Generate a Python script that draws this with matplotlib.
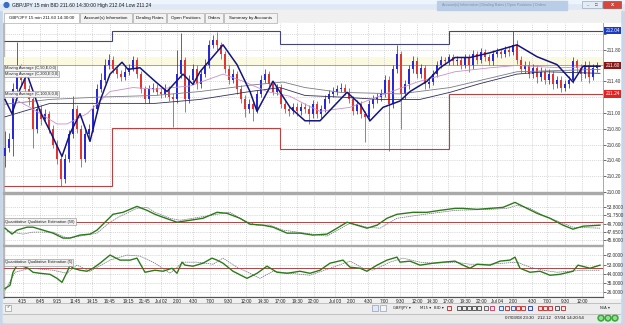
import matplotlib
matplotlib.use("Agg")
import matplotlib.pyplot as plt
from matplotlib.patches import Rectangle, Circle
import matplotlib.transforms as mtransforms

plt.rcParams['font.family'] = ['Liberation Sans', 'DejaVu Sans']

# ---------------- data ----------------
first_open = 210.45
closes = [210.55, 210.67, 211.30, 211.55, 211.42, 211.30, 211.17, 210.80, 211.05, 210.92,
          210.98, 210.80, 210.60, 210.42, 210.17, 210.42, 210.73, 211.05, 210.80, 210.42,
          210.73, 210.80, 211.05, 211.30, 211.42, 211.61, 211.67, 211.55, 211.49, 211.45,
          211.52, 211.57, 211.67, 211.49, 211.30, 211.17, 211.30, 211.32, 211.27, 211.24,
          211.30, 211.20, 211.17, 211.49, 211.67, 211.17, 211.42, 211.55, 211.36, 211.49,
          211.61, 211.86, 211.92, 211.86, 211.74, 211.55, 211.42, 211.49, 211.30, 211.17,
          211.05, 211.11, 211.05, 211.24, 211.42, 211.49, 211.36, 211.27, 211.32, 211.11,
          211.05, 211.02, 211.08, 211.02, 211.08, 211.05, 210.98, 211.11, 210.98, 211.05,
          211.17, 211.24, 211.27, 211.30, 211.32, 211.27, 211.17, 211.02, 211.11, 210.98,
          210.95, 211.11, 211.17, 211.20, 211.24, 211.42, 211.11, 211.55, 211.74, 211.24,
          211.36, 211.55, 211.65, 211.49, 211.57, 211.36, 211.39, 211.49, 211.61, 211.67,
          211.65, 211.70, 211.65, 211.67, 211.61, 211.70, 211.60, 211.74, 211.67, 211.77,
          211.70, 211.65, 211.74, 211.77, 211.74, 211.80, 211.77, 211.86, 211.67, 211.55,
          211.61, 211.49, 211.57, 211.45, 211.52, 211.42, 211.49, 211.36, 211.42, 211.32,
          211.36, 211.42, 211.65, 211.57, 211.49, 211.61, 211.45, 211.57, 211.60]
highs = [210.77, 210.75, 211.38, 211.90, 211.62, 211.47, 211.35, 211.22, 211.12, 211.10,
         211.05, 211.03, 210.85, 210.66, 210.46, 210.48, 210.78, 211.21, 211.10, 210.85,
         210.79, 210.86, 211.10, 211.36, 211.50, 211.68, 211.74, 211.72, 211.60, 211.54,
         211.58, 211.62, 211.72, 211.70, 211.53, 211.34, 211.35, 211.38, 211.36, 211.31,
         211.36, 211.34, 211.25, 211.80, 212.01, 211.70, 211.48, 211.62, 211.60, 211.55,
         211.68, 211.92, 211.98, 212.02, 211.90, 211.78, 211.60, 211.55, 211.53, 211.35,
         211.22, 211.17, 211.15, 211.29, 211.48, 211.55, 211.53, 211.40, 211.37, 211.36,
         211.15, 211.09, 211.13, 211.12, 211.13, 211.12, 211.10, 211.16, 211.15, 211.10,
         211.22, 211.29, 211.33, 211.35, 211.38, 211.36, 211.31, 211.21, 211.16, 211.15,
         211.03, 211.16, 211.22, 211.25, 211.30, 211.48, 211.46, 211.60, 211.86, 211.78,
         211.42, 211.60, 211.72, 211.70, 211.62, 211.61, 211.45, 211.54, 211.66, 211.72,
         211.71, 211.75, 211.74, 211.72, 211.71, 211.75, 211.74, 211.79, 211.78, 211.82,
         211.81, 211.74, 211.79, 211.82, 211.81, 211.85, 211.84, 212.03, 211.92, 211.72,
         211.66, 211.65, 211.62, 211.61, 211.58, 211.57, 211.55, 211.53, 211.47, 211.46,
         211.42, 211.47, 211.70, 211.68, 211.62, 211.66, 211.65, 211.62, 211.64]
lows = [210.32, 210.50, 210.45, 211.25, 211.35, 211.22, 211.10, 210.55, 210.74, 210.85,
        210.88, 210.74, 210.55, 210.36, 210.07, 210.12, 210.38, 210.68, 210.74, 210.32,
        210.38, 210.68, 210.76, 211.00, 211.26, 211.38, 211.56, 211.50, 211.44, 211.40,
        211.41, 211.48, 211.53, 211.44, 211.25, 211.13, 211.12, 211.26, 211.22, 211.19,
        211.20, 211.15, 210.82, 211.12, 211.44, 211.01, 211.12, 211.38, 211.30, 211.32,
        211.45, 211.57, 211.82, 211.80, 211.68, 211.50, 211.36, 211.38, 211.24, 211.12,
        210.95, 211.00, 210.90, 211.00, 211.20, 211.38, 211.31, 211.22, 211.22, 211.06,
        211.00, 210.96, 210.98, 210.96, 210.97, 211.00, 210.86, 210.94, 210.93, 210.94,
        211.01, 211.13, 211.20, 211.23, 211.26, 211.22, 211.12, 210.97, 210.98, 210.93,
        210.63, 210.90, 211.06, 211.12, 211.15, 211.20, 210.52, 211.06, 211.50, 210.80,
        211.18, 211.30, 211.50, 211.44, 211.44, 211.30, 211.32, 211.35, 211.45, 211.57,
        211.60, 211.61, 211.60, 211.61, 211.56, 211.57, 211.52, 211.56, 211.62, 211.63,
        211.65, 211.60, 211.61, 211.70, 211.69, 211.70, 211.72, 211.73, 211.62, 211.50,
        211.50, 211.44, 211.44, 211.38, 211.40, 211.36, 211.37, 211.30, 211.31, 211.26,
        211.28, 211.32, 211.38, 211.52, 211.40, 211.44, 211.38, 211.42, 211.52]

# moving averages (bar index, price)
ma50_x = [0, 1.75, 3.75, 5.5, 7.25, 8.75, 11.25, 14.25, 16.25, 18.75, 21.25, 23.75, 26.25, 29.25,
          30.75, 33.75, 37.5, 40.5, 44.5, 47, 48.75, 54.5, 58, 61.25, 63, 67, 71.25, 75, 78.75,
          85.5, 88.75, 91.25, 94.5, 98.75, 101.25, 105.5, 108.75, 112.5, 116.25, 121.25, 128,
          133, 138, 142, 144.5, 148.75]
ma50_y = [211.17, 210.99, 211.30, 211.49, 211.24, 211.02, 210.77, 210.45, 210.74, 210.99, 210.64,
          211.15, 211.49, 211.64, 211.55, 211.57, 211.40, 211.27, 211.49, 211.36, 211.52, 211.86,
          211.61, 211.27, 211.02, 211.40, 211.07, 210.90, 210.90, 211.26, 211.11, 210.90, 211.07,
          211.15, 211.27, 211.40, 211.57, 211.70, 211.70, 211.76, 211.86, 211.71, 211.61, 211.39,
          211.59, 211.59]
ma200_x = [0, 11.25, 23.75, 37.5, 48.75, 61.25, 68.75, 75, 83.75, 93.75, 103.75, 111.25, 118.75,
           128, 135, 148.75]
ma200_y = [210.95, 211.12, 211.12, 211.12, 211.17, 211.27, 211.32, 211.22, 211.20, 211.17, 211.17,
           211.26, 211.37, 211.49, 211.52, 211.50]
ma100_x = [0, 11.25, 23.75, 37.5, 48.75, 61.25, 69.5, 75, 83.75, 98.75, 111.25, 128, 148.75]
ma100_y = [211.11, 211.17, 211.20, 211.22, 211.27, 211.35, 211.39, 211.32, 211.26, 211.24, 211.32,
           211.52, 211.55]
mapink_x = [0, 6.25, 13, 15.5, 20.5, 26.25, 32, 37.5, 46.25, 54.5, 59.5, 65.5, 71.25, 75, 78.75,
            86.25, 93, 103, 112.5, 121.25, 128, 138.75, 148.75]
mapink_y = [211.24, 211.07, 210.86, 210.86, 210.99, 211.27, 211.32, 211.30, 211.34, 211.49, 211.40,
            211.27, 211.21, 211.11, 211.02, 211.07, 211.20, 211.39, 211.52, 211.57, 211.60, 211.57,
            211.59]

# daily high / low step levels
level_edges = [-0.25, 26.75, 68.75, 111, 149.5]
day_highs = [211.91, 212.04, 211.87, 212.04]
day_lows = [210.08, 210.81, 210.54, 211.24]
bid_price = 211.60

# QQE (50)
q50_x = [0, 1.75, 3, 5.5, 7, 9.5, 12, 14.5, 16.25, 18.75, 21.25, 23, 25.5, 27, 29.5, 31.25, 33,
         35.5, 37.5, 39.5, 43, 46.25, 49.5, 53, 55.5, 58.75, 61.25, 64.5, 67, 70.5, 73.75, 77,
         80.5, 83, 85.5, 88, 90.5, 93, 95.5, 98, 102, 105.5, 108.75, 112.5, 114.5, 118, 121.25,
         124.5, 127.5, 130.5, 133, 136.25, 139.5, 142, 144.5, 148.75]
q50_y = [48.55, 47.09, 48.07, 48.80, 48.80, 48.07, 47.33, 46.11, 46.11, 46.85, 47.09, 48.07, 50.50,
         51.97, 52.46, 53.19, 53.92, 52.94, 51.97, 51.24, 50.02, 50.50, 50.99, 52.46, 52.21, 50.99,
         49.53, 49.29, 48.80, 47.33, 47.33, 46.85, 47.09, 48.55, 50.02, 49.29, 48.55, 49.29, 50.99,
         51.97, 52.46, 52.46, 52.94, 53.43, 53.43, 53.19, 53.43, 53.68, 54.90, 53.43, 52.21, 50.99,
         49.29, 48.31, 49.04, 49.29]
q50s_x = [0.5, 4.5, 7, 12, 15.5, 18.75, 23, 26.25, 28.75, 33, 35.5, 37.5, 41.25, 43.75, 47, 53,
          56.25, 59.5, 63, 66.25, 69.5, 75, 80.5, 86.25, 90.5, 93.75, 98, 103, 108.75, 112.5,
          121.25, 125.5, 128, 131.25, 134.5, 138.75, 142, 148.75]
q50s_y = [47.82, 47.09, 47.58, 47.58, 46.11, 46.60, 47.33, 50.02, 51.48, 53.43, 53.68, 52.46, 50.99,
          50.50, 50.99, 51.97, 52.46, 50.50, 49.29, 49.29, 48.07, 47.33, 46.60, 49.77, 48.80, 48.55,
          50.99, 51.72, 52.46, 52.94, 53.19, 53.43, 54.17, 53.43, 51.72, 50.02, 48.80, 48.55]

# QQE (5)
q5_x = [0, 1.25, 2, 3, 4.5, 5.75, 7, 8.75, 11.25, 13, 14.25, 15.5, 16.25, 17, 18.75, 20.5, 22,
        23.75, 26.25, 28.75, 31.25, 33, 35, 37.5, 39.5, 41.75, 43, 44.25, 45, 47, 49.5, 51.75, 53,
        54.5, 57, 60.5, 63, 65.5, 68, 70.5, 73.75, 76.25, 78.75, 81.25, 84.5, 86.25, 88.75, 90.5,
        93, 95.5, 98, 98.75, 101.25, 103.75, 107, 109.5, 112.5, 114.5, 116.25, 118, 121.25,
        123.75, 126.25, 127.5, 128.75, 131.25, 133.75, 136.25, 138.75, 142, 143.25, 146.25, 148.75]
q5_y = [29.8, 32.8, 45.5, 52.4, 51.4, 49.4, 45.5, 44.5, 43.5, 39.6, 35.7, 45.5, 52.4, 49.4, 47.5,
        46.5, 49.4, 54.3, 62.2, 57.3, 57.3, 59.2, 45.5, 47.5, 46.5, 49.4, 44.5, 55.3, 52.4, 51.4,
        54.3, 59.2, 57.3, 54.3, 46.5, 39.6, 44.5, 51.4, 45.5, 44.5, 46.5, 44.5, 47.5, 54.3, 57.3,
        50.4, 49.4, 46.5, 52.4, 57.3, 60.2, 55.3, 56.3, 52.4, 54.3, 55.3, 56.3, 52.4, 49.4, 53.3,
        52.4, 56.3, 57.3, 60.2, 49.4, 45.5, 46.5, 42.6, 43.5, 46.5, 52.4, 49.4, 52.4]
q5s_x = [0, 2.5, 6.25, 12, 15.5, 18, 21.25, 26.25, 30.5, 33.75, 37.5, 41.25, 44.5, 48, 52, 54.5,
         58, 61.25, 63.75, 67, 71.25, 76.25, 82, 86.25, 89.5, 92, 96.25, 99.5, 103.75, 107, 112.5,
         116.25, 121.25, 128, 131.25, 134.5, 138, 144.5, 148.75]
q5s_y = [27.9, 45.5, 49.4, 47.5, 44.5, 52.4, 46.5, 57.3, 62.2, 61.2, 54.3, 44.5, 55.3, 55.3, 53.3,
         59.2, 50.4, 44.5, 39.6, 46.5, 44.5, 42.6, 50.4, 56.3, 49.4, 47.5, 55.3, 59.2, 55.3, 54.3,
         55.3, 53.3, 53.3, 55.3, 50.4, 47.5, 45.5, 47.5, 47.5]

# axis labels
time_labels = ["4:15", "6:45", "9:15", "11:45", "14:15", "16:45", "19:15", "21:45", "Jul 02",
               "2:00", "4:30", "7:00", "9:30", "12:00", "14:30", "17:00", "19:30", "22:00", "Jul 03",
               "2:00", "4:30", "7:00", "9:30", "12:00", "14:30", "17:00", "19:30", "22:00", "Jul 04",
               "2:00", "4:30", "7:00", "9:30", "12:00"]
time_pos = [4.4, 8.75, 13, 17.5, 21.75, 26.25, 30.75, 35, 39, 43, 47, 51.25, 55.75, 60.25, 64.5,
            68.75, 73, 77.25, 82.5, 86.5, 90.75, 94.75, 98.75, 103, 106.75, 110.75, 115, 119.25,
            123, 127, 131.75, 135.5, 140, 144.25]
price_ticks = [210.00, 210.20, 210.40, 210.60, 210.80, 211.00, 211.20, 211.40, 211.60, 211.80, 212.00]
hidden_price_labels = [211.20, 211.60, 212.00]   # covered by the value boxes
q50_ticks = [45.60, 47.65, 49.70, 51.75, 53.80]
q5_ticks = [26, 35, 44, 53, 62]
title_text = "GBP/JPY 15 min BID 211.60 14:30:00 High 212.04 Low 211.24"
tabs = ["GBP/JPY 15 min 211.60 14:30:00", "Account(s) Information", "Dealing Rates",
        "Open Positions", "Orders", "Summary by Accounts"]
ma_labels = ["Moving Average (C,50,E,0,0)", "Moving Average (C,200,E,0,0)",
             "Moving Average (C,100,S,0,0)"]
q_labels = ["Quantitative Qualitative Estimation (50)", "Quantitative Qualitative Estimation (5)"]
status_text = "07/03/08 23:30   212.12   07/04 14:20:54"

# ---------------- layout ----------------
W, H = 625, 325
fig = plt.figure(figsize=(W / 100, H / 100), dpi=100)


def px_rect(x0, y0, x1, y1):
    return [x0 / W, 1 - y1 / H, (x1 - x0) / W, (y1 - y0) / H]


bg = fig.add_axes([0, 0, 1, 1])
bg.set_xlim(0, W)
bg.set_ylim(H, 0)
bg.axis('off')
bg.add_patch(Rectangle((0, 0), W, H, color='#c6d7ec'))
bg.add_patch(Rectangle((0, 0), W, 10, color='#dfe9f6'))
bg.add_patch(Rectangle((0, 0), W, 3, color='#eef4fb'))
bg.add_patch(Rectangle((3, 10), 617, 312, color='#f0f0f0'))
bg.add_patch(Rectangle((3, 23), 617, 275, color='white'))
# title bar
bg.add_patch(Circle((6.5, 5), 2.4, color='#3b6fc4'))
bg.text(12, 5.2, title_text, fontsize=3.6, va='center', ha='left', color='#1a1a1a')
bg.add_patch(Rectangle((437, 0.5), 130, 9, color='#b9cde6'))
bg.text(442, 5, "Account(s) Information | Dealing Rates | Open Positions | Orders",
        fontsize=2.6, va='center', ha='left', color='#7e90a8')
bg.add_patch(Rectangle((582, 1), 20, 7, fc='#e4ebf4', ec='#8a9ab0', lw=0.4))
bg.text(587, 4.6, "_", fontsize=3, ha='center', va='center', color='#333')
bg.text(596, 4.6, "□", fontsize=3.2, ha='center', va='center', color='#333')
bg.add_patch(Rectangle((603, 1), 18, 7, fc='#d8453a', ec='#8a3a30', lw=0.4))
bg.text(612, 4.6, "x", fontsize=4, ha='center', va='center', color='white', fontweight='bold')
# tabs
tab_x = [(4, 79), (80, 132), (133, 166), (167, 204), (205, 223), (224, 277)]
for k, (lab, (a, b)) in enumerate(zip(tabs, tab_x)):
    fc = 'white' if k == 0 else '#f3f3f3'
    bg.add_patch(Rectangle((a, 12.5), b - a, 10.5, fc=fc, ec='#9c9c9c', lw=0.4))
    bg.text((a + b) / 2, 17.8, lab, fontsize=3.2, ha='center', va='center', color='#111')
# left frame line
bg.add_patch(Rectangle((3, 23), 1.2, 275, color='#b8b8b8'))
# panel separators
bg.add_patch(Rectangle((3, 192.3), 600, 1.4, color='#a9a9a9'))
bg.add_patch(Rectangle((3, 244.8), 600, 1.4, color='#a9a9a9'))
# toolbar + status bar
bg.add_patch(Rectangle((3, 303), 617, 10, color='#ededed'))
bg.plot([3, 620], [303, 303], color='#b0b0b0', lw=0.5)
bg.plot([3, 620], [313.5, 313.5], color='#b0b0b0', lw=0.5)
bg.add_patch(Rectangle((3, 314), 617, 8, color='#e9e9e9'))
bg.add_patch(Rectangle((5, 304.5), 6, 6, fc='#f8f8f8', ec='#888', lw=0.4))
bg.text(8, 307.6, "✓", fontsize=3, ha='center', va='center', color='#333', family='DejaVu Sans')
bg.add_patch(Rectangle((372, 304.5), 6, 6, fc='#dfe9f7', ec='#7c8ea8', lw=0.4))
bg.add_patch(Rectangle((380, 304.5), 6, 6, fc='#f4f4f4', ec='#7c8ea8', lw=0.4))
tool_items = [(393, "GBP/JPY ▾"), (420, "M15 ▾"), (434, "BID ▾")]
for tx, tt in tool_items:
    bg.text(tx, 307.8, tt, fontsize=2.7, ha='left', va='center', color='#222',
            family=['DejaVu Sans'])
icon_x = [449, 459, 464, 469, 474, 479, 486, 492, 501, 507, 513, 518, 523, 530, 540, 545, 550, 557, 563]
icon_c = ['#c02020', '#444', '#444', '#444', '#444', '#444', '#555', '#c03060', '#2050b0', '#c02020',
          '#3050a0', '#c02020', '#c02020', '#2030a0', '#c02020', '#c02020', '#c02020', '#444', '#c02020']
for ix, ic in zip(icon_x, icon_c):
    bg.add_patch(Rectangle((ix - 1.6, 305.5), 3.2, 4.5, fc='none', ec=ic, lw=0.6))
bg.text(600, 307.8, "N/A ▾", fontsize=2.7, ha='left', va='center', color='#222', family=['DejaVu Sans'])
bg.text(505, 318, status_text, fontsize=3.2, ha='left', va='center', color='#111')
for cx in [601, 608, 615]:
    bg.add_patch(Circle((cx, 318), 3, color='#3aa63a'))
    bg.add_patch(Circle((cx, 318), 1.4, color='#8ee08e'))

# ---------------- chart panels ----------------
grid_kw = dict(color='#c9c9c9', lw=0.5, ls=(0, (1.5, 1.5)))
XL = (-0.25, 149.5)


def style_panel(ax):
    ax.set_facecolor('none')
    ax.set_xlim(*XL)
    ax.set_axisbelow(True)
    ax.grid(True, **grid_kw)
    ax.yaxis.tick_right()
    ax.tick_params(axis='y', length=2, width=0.5, pad=1, labelsize=3.4, colors='#333')
    ax.set_xticks(time_pos)
    ax.tick_params(axis='x', length=0, labelbottom=False)
    for s in ['left', 'top', 'bottom']:
        ax.spines[s].set_visible(False)
    ax.spines['right'].set_color('#9a9a9a')
    ax.spines['right'].set_linewidth(0.6)


# price panel
ax = fig.add_axes(px_rect(4, 23, 603, 192))
style_panel(ax)
ax.set_ylim(210.024, 212.136)
ax.set_yticks(price_ticks)
ax.set_yticklabels(["" if round(t, 2) in hidden_price_labels else f"{t:.2f}" for t in price_ticks])
ax.axhspan(bid_price, bid_price + 0.10, color='#fcf9e1', zorder=0.3, lw=0)
ax.axhline(bid_price, color='#b5935f', lw=0.6, zorder=2)
ax.stairs(day_highs, level_edges, baseline=None, color='#45457e', lw=0.8, zorder=2)
ax.stairs(day_lows, level_edges, baseline=None, color='#b54545', lw=0.8, zorder=2)

n = len(closes)
opens = [first_open] + closes[:-1]
idx = list(range(n))
cols = ['#2a2ad4' if c >= o else '#e03535' for o, c in zip(opens, closes)]
ax.vlines(idx, lows, highs, colors=cols, lw=0.55, zorder=3)
ax.bar(idx, [max(abs(c - o), 0.01) for o, c in zip(opens, closes)],
       bottom=[min(o, c) for o, c in zip(opens, closes)], width=0.62, color=cols, lw=0, zorder=3)
ax.plot(ma200_x, ma200_y, color='#2e2e5e', lw=0.6, zorder=4)
ax.plot(ma100_x, ma100_y, color='#7a7a8a', lw=0.6, zorder=4)
ax.plot(mapink_x, mapink_y, color='#c98fc9', lw=0.6, zorder=4)
ax.plot(ma50_x, ma50_y, color='#14147e', lw=1.1, zorder=5)

blend = mtransforms.blended_transform_factory(ax.transAxes, ax.transData)
for val, fc in [(212.04, '#1c3cc0'), (bid_price, '#861818'), (211.24, '#e02424')]:
    ax.text(1.004, val, f"{val:.2f}", transform=blend, fontsize=3.4, color='white',
            ha='left', va='center', clip_on=False, zorder=10,
            bbox=dict(boxstyle='square,pad=0.25', fc=fc, ec='none'))

# QQE 50 panel
a1 = fig.add_axes(px_rect(4, 194, 603, 244.5))
style_panel(a1)
a1.set_ylim(44.53, 56.97)
a1.set_yticks(q50_ticks)
a1.set_yticklabels([f"{t:.4f}" for t in q50_ticks])
a1.axhline(50, color='#b04545', lw=0.7, zorder=2)
a1.plot(q50s_x, q50s_y, color='#6a6a7a', lw=0.5, ls=(0, (2, 1)), zorder=3)
a1.plot(q50_x, q50_y, color='#2c7a1c', lw=1.0, zorder=4)

# QQE 5 panel
a2 = fig.add_axes(px_rect(4, 246.5, 603, 297))
style_panel(a2)
a2.set_ylim(21.5, 70.5)
a2.set_yticks(q5_ticks)
a2.set_yticklabels([f"{t:.4f}" for t in q5_ticks])
a2.axhline(50, color='#b04545', lw=0.7, zorder=2)
a2.plot(q5s_x, q5s_y, color='#6a6a7a', lw=0.5, ls=(0, (2, 1)), zorder=3)
a2.plot(q5_x, q5_y, color='#2c7a1c', lw=1.0, zorder=4)
a2.spines['bottom'].set_visible(True)
a2.spines['bottom'].set_color('#555')
a2.spines['bottom'].set_linewidth(0.9)
a2.set_xticklabels(time_labels)
a2.tick_params(axis='x', labelbottom=True, labelsize=3.3, pad=1.5, colors='#222')

# ---------------- overlay labels ----------------
ov = fig.add_axes([0, 0, 1, 1])
ov.set_xlim(0, W)
ov.set_ylim(H, 0)
ov.axis('off')
ov.patch.set_alpha(0)
box = dict(boxstyle='square,pad=0.25', fc='#f2f2f2', ec='#8a8a8a', lw=0.4)
for lab, yy in zip(ma_labels, [68.3, 73.8, 94]):
    ov.text(5, yy, lab, fontsize=2.9, ha='left', va='center', color='#222', bbox=box, zorder=10)
for lab, yy in zip(q_labels, [221.5, 262.5]):
    ov.text(5, yy, lab, fontsize=2.9, ha='left', va='center', color='#222', bbox=box, zorder=10)

fig.savefig("out.png", dpi=100)
